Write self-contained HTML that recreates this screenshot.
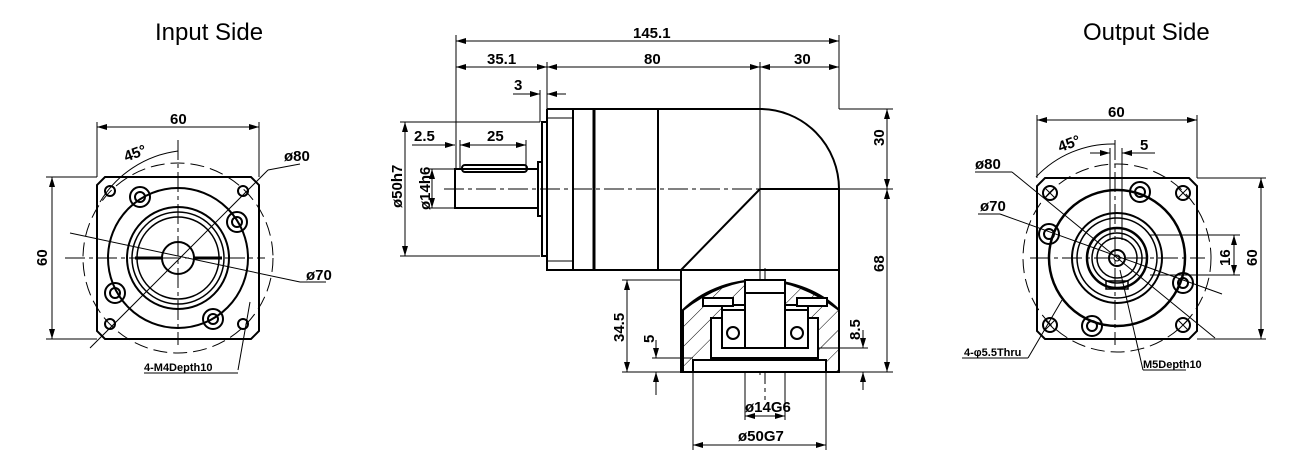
<!DOCTYPE html>
<html><head><meta charset="utf-8"><style>
html,body{margin:0;padding:0;background:#fff;}
svg{display:block}
text{font-family:"Liberation Sans",sans-serif;fill:#000}
.d{font-family:"Liberation Sans Narrow","Liberation Sans",sans-serif;font-size:15px;font-weight:bold}
</style></head><body>
<svg width="1300" height="469" viewBox="0 0 1300 469" xmlns="http://www.w3.org/2000/svg">
<defs>
<marker id="a" viewBox="0 0 10 6" refX="10" refY="3" markerWidth="10" markerHeight="6" orient="auto-start-reverse" markerUnits="userSpaceOnUse"><path d="M0,0L10,3L0,6z" fill="#000"/></marker>
<pattern id="h" width="14" height="14" patternUnits="userSpaceOnUse" patternTransform="rotate(45)"><line x1="0" y1="0" x2="0" y2="14" stroke="#000" stroke-width="1"/></pattern>
</defs>
<text x="155" y="40" font-size="24">Input Side</text>
<text x="1083" y="40" font-size="24">Output Side</text>

<!-- LEFT VIEW -->
<g fill="none" stroke="#000" stroke-width="1">
<line x1="97" y1="127" x2="259" y2="127" marker-start="url(#a)" marker-end="url(#a)"/>
<line x1="97" y1="122" x2="97" y2="177"/><line x1="259" y1="122" x2="259" y2="177"/>
<line x1="52" y1="177" x2="52" y2="339" marker-start="url(#a)" marker-end="url(#a)"/>
<line x1="46" y1="177" x2="97" y2="177"/><line x1="46" y1="339" x2="97" y2="339"/>
<circle cx="178" cy="258" r="95" stroke-dasharray="14,6"/>
<path d="M100,202 A107,107 0 0 1 178,151" stroke-dasharray="none"/>
<circle cx="178" cy="258" r="93" stroke-dasharray="14,6" opacity="0"/>
<line x1="178" y1="140" x2="178" y2="345" stroke-dasharray="20,4,4,4"/>
<line x1="65" y1="258" x2="265" y2="258" stroke-dasharray="20,4,4,4"/>
<line x1="90" y1="348" x2="268" y2="170"/>
<line x1="268" y1="170" x2="300" y2="164"/>
<line x1="70" y1="233" x2="300" y2="282" />
<line x1="300" y1="282" x2="326" y2="282"/>
<line x1="250" y1="302" x2="238" y2="370"/>
<line x1="144" y1="373" x2="238" y2="373"/>
</g>
<g fill="none" stroke="#000" stroke-width="2">
<path d="M105,177 L251,177 L259,185 L259,331 L251,339 L105,339 L97,331 L97,185 Z"/>
<circle cx="178" cy="258" r="70"/>
<circle cx="178" cy="258" r="51"/>
<circle cx="178" cy="258" r="46" stroke-width="1.5"/>
<circle cx="178" cy="258" r="41" stroke-width="1.5"/>
<circle cx="178" cy="258" r="16"/>
<circle cx="140" cy="197" r="10"/><circle cx="140" cy="197" r="5"/>
<circle cx="237" cy="222" r="10"/><circle cx="237" cy="222" r="5"/>
<circle cx="115" cy="293" r="10"/><circle cx="115" cy="293" r="5"/>
<circle cx="213" cy="319" r="10"/><circle cx="213" cy="319" r="5"/>
<circle cx="110" cy="191" r="5"/><circle cx="243" cy="191" r="5"/>
<circle cx="110" cy="324" r="5"/><circle cx="243" cy="324" r="5"/>
</g>
<g stroke="#000" stroke-width="3"><line x1="135" y1="258" x2="162" y2="258"/><line x1="194" y1="258" x2="222" y2="258"/></g>
<text class="d" x="170" y="124">60</text>
<text class="d" x="124" y="160" transform="rotate(-20 130 155)">45°</text>
<text class="d" x="284" y="161">ø80</text>
<text class="d" x="306" y="280">ø70</text>
<text class="d" x="0" y="0" transform="translate(47,266) rotate(-90)">60</text>
<text x="144" y="371" font-size="11" font-weight="bold">4-M4Depth10</text>

<!-- MIDDLE VIEW -->
<g fill="none" stroke="#000" stroke-width="1">
<line x1="456" y1="41" x2="839" y2="41" marker-start="url(#a)" marker-end="url(#a)"/>
<line x1="456" y1="35" x2="456" y2="169"/><line x1="839" y1="35" x2="839" y2="109"/>
<line x1="456" y1="67" x2="547" y2="67" marker-start="url(#a)" marker-end="url(#a)"/>
<line x1="547" y1="67" x2="760" y2="67" marker-start="url(#a)" marker-end="url(#a)"/>
<line x1="760" y1="67" x2="839" y2="67" marker-start="url(#a)" marker-end="url(#a)"/>
<line x1="547" y1="62" x2="547" y2="109"/><line x1="760" y1="62" x2="760" y2="375" stroke-dasharray="none"/>
<line x1="513" y1="94" x2="540" y2="94" marker-end="url(#a)"/>
<line x1="566" y1="94" x2="547" y2="94" marker-end="url(#a)"/>
<line x1="540" y1="90" x2="540" y2="122"/>
<line x1="412" y1="145" x2="455" y2="145" marker-end="url(#a)"/>
<line x1="460" y1="145" x2="526" y2="145" marker-start="url(#a)" marker-end="url(#a)"/>
<line x1="460" y1="140" x2="460" y2="168"/><line x1="526" y1="140" x2="526" y2="168"/>
<line x1="405" y1="122" x2="405" y2="256" marker-start="url(#a)" marker-end="url(#a)"/>
<line x1="400" y1="122" x2="540" y2="122"/><line x1="400" y1="256" x2="540" y2="256"/>
<line x1="432" y1="169" x2="432" y2="208" marker-start="url(#a)" marker-end="url(#a)"/>
<line x1="428" y1="169" x2="455" y2="169"/><line x1="428" y1="208" x2="455" y2="208"/>
<line x1="444" y1="189" x2="760" y2="189" stroke-dasharray="20,4,4,4"/>
<line x1="839" y1="109" x2="893" y2="109"/><line x1="839" y1="189" x2="893" y2="189"/><line x1="839" y1="372" x2="893" y2="372"/>
<line x1="887" y1="109" x2="887" y2="189" marker-start="url(#a)" marker-end="url(#a)"/>
<line x1="887" y1="189" x2="887" y2="372" marker-start="url(#a)" marker-end="url(#a)"/>
<line x1="622" y1="280" x2="681" y2="280"/><line x1="622" y1="372" x2="681" y2="372"/>
<line x1="627" y1="280" x2="627" y2="372" marker-start="url(#a)" marker-end="url(#a)"/>
<line x1="652" y1="358" x2="693" y2="358"/>
<line x1="656" y1="340" x2="656" y2="358" marker-end="url(#a)"/>
<line x1="656" y1="395" x2="656" y2="372" marker-end="url(#a)"/>
<line x1="818" y1="348" x2="868" y2="348"/>
<line x1="863" y1="330" x2="863" y2="348" marker-end="url(#a)"/>
<line x1="863" y1="390" x2="863" y2="372" marker-end="url(#a)"/>
<line x1="745" y1="348" x2="745" y2="420"/><line x1="785" y1="348" x2="785" y2="420"/>
<line x1="745" y1="416" x2="785" y2="416" marker-start="url(#a)" marker-end="url(#a)"/>
<line x1="693" y1="372" x2="693" y2="450"/><line x1="826" y1="372" x2="826" y2="450"/>
<line x1="693" y1="445" x2="826" y2="445" marker-start="url(#a)" marker-end="url(#a)"/>
<line x1="765" y1="268" x2="765" y2="400" stroke-dasharray="20,4,4,4"/>
</g>
<g fill="none" stroke="#000" stroke-width="2">
<rect x="455" y="169" width="83" height="39"/>
<rect x="462" y="165" width="65" height="7" rx="3"/>
<rect x="538" y="162" width="4" height="54"/>
<rect x="542" y="122" width="5" height="134"/>
<path d="M547,109 L760,109 A79,80 0 0 1 839,189 L839,270 L681,270 L760,189 M547,109 L547,270 L681,270"/>
<line x1="760" y1="189" x2="839" y2="189"/>
<line x1="573" y1="109" x2="573" y2="270"/>
<line x1="594" y1="109" x2="594" y2="270" stroke-width="3"/>
<line x1="658" y1="109" x2="658" y2="270"/>
<line x1="547" y1="118" x2="573" y2="118" stroke-width="1"/><line x1="547" y1="261" x2="573" y2="261" stroke-width="1"/>
</g>
<path d="M681,270 L839,270 L839,372 L681,372 Z M683,310 A100,80 0 0 1 839,310" fill="none" stroke="#000" stroke-width="2"/>
<path d="M683,310 Q760,250 839,310 L839,372 L826,372 L826,360 L818,360 L818,318 L808,318 L808,305 L785,305 L785,280 L745,280 L745,305 L722,305 L722,318 L711,318 L711,360 L693,360 L693,372 L683,372 Z" fill="url(#h)" stroke="#000" stroke-width="2"/>
<g fill="#fff" stroke="#000" stroke-width="2">
<rect x="711" y="318" width="107" height="40"/>
<rect x="722" y="310" width="23" height="38"/>
<rect x="785" y="310" width="23" height="38"/>
<rect x="745" y="280" width="40" height="68"/>
<line x1="745" y1="293" x2="785" y2="293"/>
<rect x="703" y="298" width="30" height="8"/>
<rect x="797" y="298" width="30" height="8"/>
<circle cx="733" cy="333" r="6"/><circle cx="797" cy="333" r="6"/>
<rect x="693" y="360" width="133" height="12"/>
</g>
<text class="d" x="633" y="38">145.1</text>
<text class="d" x="487" y="64">35.1</text>
<text class="d" x="644" y="64">80</text>
<text class="d" x="794" y="64">30</text>
<text class="d" x="514" y="90">3</text>
<text class="d" x="414" y="141">2.5</text>
<text class="d" x="487" y="141">25</text>
<text class="d" transform="translate(402,208) rotate(-90)">ø50h7</text>
<text class="d" transform="translate(430,210) rotate(-90)">ø14h6</text>
<text class="d" transform="translate(884,146) rotate(-90)">30</text>
<text class="d" transform="translate(884,272) rotate(-90)">68</text>
<text class="d" transform="translate(624,342) rotate(-90)">34.5</text>
<text class="d" transform="translate(654,343) rotate(-90)">5</text>
<text class="d" transform="translate(860,340) rotate(-90)">8.5</text>
<text class="d" x="745" y="412">ø14G6</text>
<text class="d" x="738" y="441">ø50G7</text>

<!-- RIGHT VIEW -->
<g fill="none" stroke="#000" stroke-width="1">
<line x1="1037" y1="120" x2="1197" y2="120" marker-start="url(#a)" marker-end="url(#a)"/>
<line x1="1037" y1="115" x2="1037" y2="178"/><line x1="1197" y1="115" x2="1197" y2="178"/>
<line x1="1197" y1="178" x2="1266" y2="178"/><line x1="1197" y1="339" x2="1266" y2="339"/>
<line x1="1261" y1="178" x2="1261" y2="339" marker-start="url(#a)" marker-end="url(#a)"/>
<line x1="1150" y1="235" x2="1240" y2="235"/><line x1="1150" y1="275" x2="1240" y2="275"/>
<line x1="1234" y1="235" x2="1234" y2="275" marker-start="url(#a)" marker-end="url(#a)"/>
<line x1="1090" y1="153" x2="1110" y2="153" marker-end="url(#a)"/>
<line x1="1155" y1="153" x2="1122" y2="153" marker-end="url(#a)"/>
<line x1="1110" y1="148" x2="1110" y2="240"/><line x1="1122" y1="148" x2="1122" y2="240"/>
<circle cx="1117" cy="258" r="94" stroke-dasharray="14,6"/>
<path d="M1036,177 A105,105 0 0 1 1115,144"/>
<line x1="1115" y1="140" x2="1115" y2="345" stroke-dasharray="20,4,4,4"/>
<line x1="1030" y1="258" x2="1205" y2="258" stroke-dasharray="20,4,4,4"/>
<line x1="975" y1="172" x2="1012" y2="172"/><line x1="1012" y1="172" x2="1215" y2="338"/>
<line x1="978" y1="214" x2="1000" y2="214"/><line x1="1000" y1="214" x2="1222" y2="294"/>
<line x1="962" y1="358" x2="1028" y2="358"/><line x1="1028" y1="358" x2="1062" y2="300"/>
<line x1="1143" y1="370" x2="1186" y2="370"/><line x1="1143" y1="370" x2="1120" y2="270"/>
</g>
<g fill="none" stroke="#000" stroke-width="2">
<path d="M1045,178 L1189,178 L1197,186 L1197,331 L1189,339 L1045,339 L1037,331 L1037,186 Z"/>
<circle cx="1117" cy="258" r="68" stroke-width="2.5"/>
<circle cx="1117" cy="258" r="45"/>
<circle cx="1117" cy="258" r="40" stroke-width="1.5"/>
<circle cx="1117" cy="258" r="30" stroke-width="2.5"/>
<circle cx="1117" cy="258" r="25" stroke-width="1.5"/>
<circle cx="1117" cy="258" r="20" stroke-width="1.5"/>
<circle cx="1117" cy="258" r="8"/>
<circle cx="1117" cy="258" r="3" stroke-width="1"/>
<rect x="1106" y="281" width="22" height="8" stroke-width="1.5"/>
<circle cx="1140" cy="192" r="10"/><circle cx="1140" cy="192" r="5"/>
<circle cx="1049" cy="234" r="10"/><circle cx="1049" cy="234" r="5"/>
<circle cx="1183" cy="283" r="10"/><circle cx="1183" cy="283" r="5"/>
<circle cx="1092" cy="326" r="10"/><circle cx="1092" cy="326" r="5"/>
<circle cx="1050" cy="193" r="7"/><circle cx="1183" cy="193" r="7"/>
<circle cx="1050" cy="325" r="7"/><circle cx="1183" cy="325" r="7"/>
</g>
<g stroke="#000" stroke-width="1">
<path d="M1045,188l10,10m0,-10l-10,10 M1178,188l10,10m0,-10l-10,10 M1045,320l10,10m0,-10l-10,10 M1178,320l10,10m0,-10l-10,10"/>
</g>
<text class="d" x="1108" y="117">60</text>
<text class="d" x="1058" y="150" transform="rotate(-20 1065 145)">45°</text>
<text class="d" x="1140" y="150">5</text>
<text class="d" x="975" y="169">ø80</text>
<text class="d" x="980" y="211">ø70</text>
<text class="d" transform="translate(1230,266) rotate(-90)">16</text>
<text class="d" transform="translate(1257,266) rotate(-90)">60</text>
<text x="964" y="356" font-size="11" font-weight="bold">4-φ5.5Thru</text>
<text x="1143" y="368" font-size="11" font-weight="bold">M5Depth10</text>
</svg>
</body></html>
